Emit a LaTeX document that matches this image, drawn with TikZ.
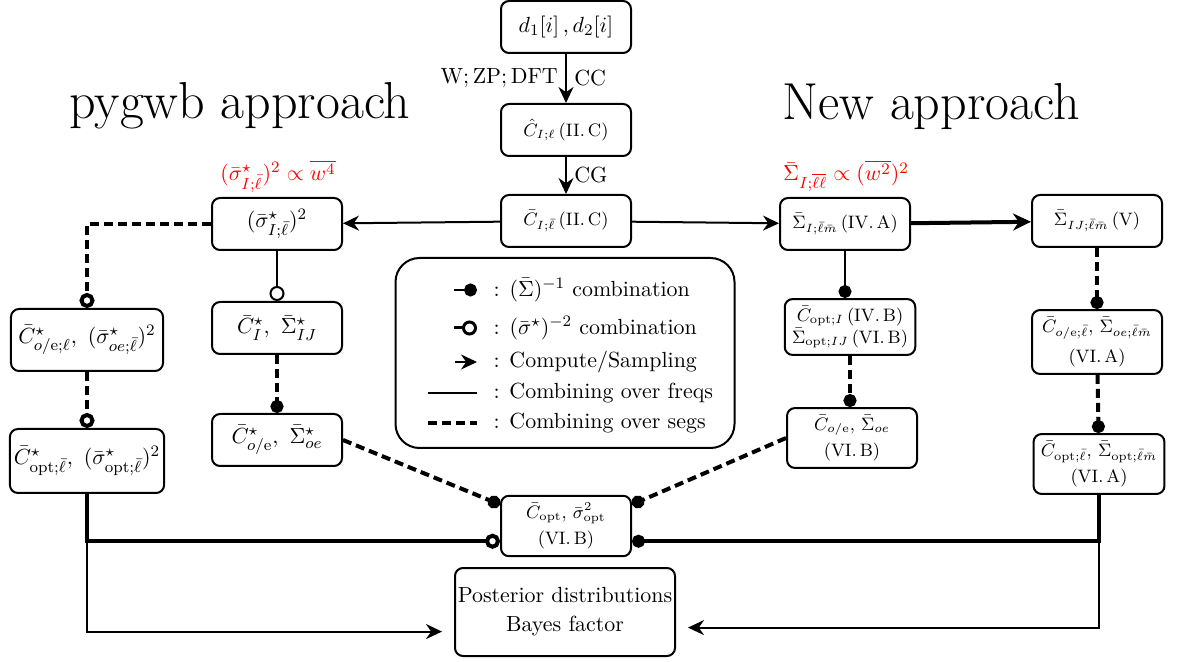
\documentclass[tikz,border=0pt,11pt]{standalone}
\usetikzlibrary{arrows.meta}
\tikzset{
  blk/.style={draw,line width=1pt,rounded corners=4pt,minimum width=65pt,minimum height=26pt,align=center},
  flow/.style={line width=1pt,-{Stealth[length=8pt,width=7.5pt]}},
  freq/.style={line width=1pt},
  segs/.style={line width=2pt,dash pattern=on 4.5pt off 2.5pt},
  heavy/.style={line width=2pt},
  dotend/.style={-{Circle[length=6.5pt]}},
  ringend/.style={-{Circle[open,length=7.5pt]}},
  title/.style={anchor=base,font=\fontsize{26}{30}\selectfont},
}
\begin{document}
\begin{tikzpicture}[x=0.5pt,y=-0.5pt]
    \useasboundingbox (0,0) rectangle (1178,662);

    \node[title] (pygwb) at (240,119) {pygwb approach};
    \node[title] (newappr) at (931,120) {New approach};

    \node[blk] (data) at (566,27) {$d_1[i]\,,d_2[i]$};
    \node[blk,font=\footnotesize] (chat) at (566,130) {$\hat C_{I;\ell}\,$(II.\,C)};
    \node[blk,font=\footnotesize] (cbar) at (566,221) {$\bar C_{I;\bar\ell}\,$(II.\,C)};

    \node[blk] (sig) at (277,224) {$(\bar\sigma^\star_{I;\bar\ell})^2$};
    \node[red] (sigw) at (278,176) {$(\bar\sigma^\star_{I;\bar\ell})^2\propto\overline{w^4}$};
    \node[blk] (cstar) at (277,328) {$\bar C^\star_I,\ \bar\Sigma^\star_{IJ}$};
    \node[blk] (coestar) at (277,440) {$\bar C^\star_{o/\mathrm{e}},\ \bar\Sigma^\star_{oe}$};
    \node[blk,minimum height=31pt] (coelstar) at (87,340) {$\bar C^\star_{o/\mathrm{e};\ell},\ (\bar\sigma^\star_{oe;\bar\ell})^2$};
    \node[blk,minimum height=32pt,inner sep=2pt] (coptstar) at (87,461) {$\bar C^\star_{\mathrm{opt};\bar\ell},\ (\bar\sigma^\star_{\mathrm{opt};\bar\ell})^2$};

    \node[blk,font=\footnotesize] (sigi) at (845,224) {$\bar\Sigma_{I;\bar\ell\bar m}\,$(IV.\,A)};
    \node[red] (sigiw) at (846,176) {$\bar\Sigma_{I;\overline{\ell\ell}}\propto(\overline{w^2})^2$};
    \node[blk,font=\footnotesize] (sigij) at (1097,221) {$\bar\Sigma_{IJ;\bar\ell\bar m}\,$(V)};
    \node[blk,font=\footnotesize] (copti) at (850,327) {$\bar C_{\mathrm{opt};I}\,$(IV.\,B)\\$\bar\Sigma_{\mathrm{opt};IJ}\,$(VI.\,B)};
    \node[blk,font=\footnotesize] (coe) at (852,438) {$\bar C_{o/\mathrm{e}},\,\bar\Sigma_{oe}$\\[2pt](VI.\,B)};
    \node[blk,font=\footnotesize,minimum height=29pt] (coel) at (1097,342) {$\bar C_{o/\mathrm{e};\bar\ell},\,\bar\Sigma_{oe;\bar\ell\bar m}$\\[4pt](VI.\,A)};
    \node[blk,font=\footnotesize,minimum height=29pt] (coptl) at (1099,464) {$\bar C_{\mathrm{opt};\bar\ell},\,\bar\Sigma_{\mathrm{opt};\bar\ell\bar m}$\\[2pt](VI.\,A)};

    \node[blk,font=\footnotesize] (copt) at (566,526) {$\bar C_{\mathrm{opt}},\,\bar\sigma^2_{\mathrm{opt}}$\\[2pt](VI.\,B)};
    \node[blk,minimum width=110pt,minimum height=44pt,inner sep=1pt] (post) at (565,612) {Posterior distributions\\[1pt]Bayes factor};

    \node[draw,line width=1pt,rounded corners=12pt,minimum width=169.5pt,minimum height=95pt] (legend) at (565,353) {};
    \coordinate (k1s) at (454,290); \coordinate (k1e) at (477,290);
    \draw[freq,dotend] (k1s) -- (k1e);
    \node[anchor=west] (k1) at (486,290) {: $(\bar\Sigma)^{-1}$ combination};
    \coordinate (k2s) at (454,328); \coordinate (k2e) at (477,328);
    \draw[line width=1.5pt,ringend] (k2s) -- (k2e);
    \node[anchor=west] (k2) at (486,328) {: $(\bar\sigma^\star)^{-2}$ combination};
    \coordinate (k3s) at (455,362); \coordinate (k3e) at (477,362);
    \draw[flow] (k3s) -- (k3e);
    \node[anchor=west] (k3) at (486,362) {: Compute/Sampling};
    \coordinate (k4s) at (428,393); \coordinate (k4e) at (477,393);
    \draw[freq] (k4s) -- (k4e);
    \node[anchor=west] (k4) at (486,393) {: Combining over freqs};
    \coordinate (k5s) at (428,423); \coordinate (k5e) at (477,423);
    \draw[segs] (k5s) -- (k5e);
    \node[anchor=west] (k5) at (486,423) {: Combining over segs};

    \draw[flow] (data) -- node[left]{$\mathrm{W;ZP;DFT}$} node[right]{CC} (chat);
    \draw[flow] (chat) -- node[right]{CG} (cbar);
    \draw[flow] (cbar) -- (sig);
    \draw[flow] (cbar) -- (sigi);
    \draw[heavy,-{Stealth[length=9pt,width=8.5pt]}] (sigi) -- (sigij);

    \draw[freq,ringend] (sig) -- (cstar);
    \draw[segs,ringend] (sig.west) -| (coelstar);
    \draw[segs,ringend] (coelstar) -- (coptstar);
    \draw[segs,dotend] (cstar) -- (coestar);
    \draw[segs,dotend] (coestar.east) -- (copt.162);

    \draw[freq,dotend] (sigi.south) -- (sigi.south |- copti.north);
    \draw[segs,dotend] (copti.south) -- (copti.south |- coe.north);
    \draw[segs,dotend] (sigij) -- (coel);
    \draw[segs,dotend] (coel) -- (coptl);
    \draw[segs,dotend] (coe.west) -- (copt.18);

    \coordinate (jl) at (coptstar.south |- copt.193);
    \coordinate (jr) at (coptl.south |- copt.-13);
    \draw[heavy,ringend] (coptstar.south) -- (jl) -- (copt.193);
    \draw[heavy,dotend] (coptl.south) -- (jr) -- (copt.-13);
    \draw[flow,shorten >=6pt] (jl) |- (post.190);
    \draw[flow,shorten >=6pt] (jr) |- (post.-8);
\end{tikzpicture}
\end{document}
